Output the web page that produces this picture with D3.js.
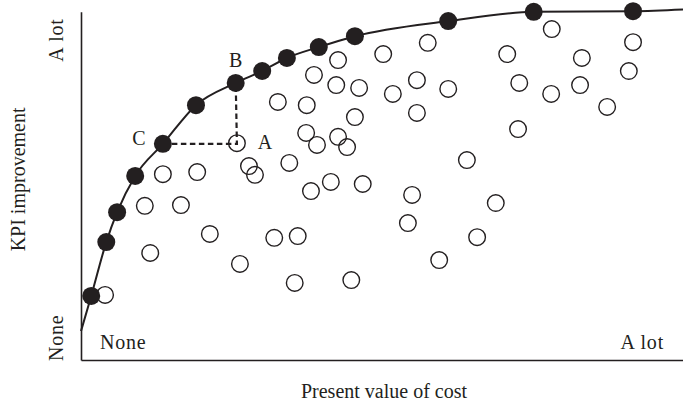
<!DOCTYPE html>
<html>
<head>
<meta charset="utf-8">
<script src="https://cdn.jsdelivr.net/npm/d3@7"></script>
<style>
html,body{margin:0;padding:0;background:#fff;}
svg{display:block;}
text{font-family:"Liberation Serif","Times New Roman",serif;fill:#231f20;}
</style>
</head>
<body>
<svg id="chart" width="683" height="405"></svg>
<script>
// Frontier (filled) points: x = present value of cost, y = KPI improvement (0-100 scale)
const frontierX = [1.7, 4.2, 6.0, 9.0, 13.6, 19.1, 25.7, 30.1, 34.2, 39.5, 45.5, 61.0, 75.2, 91.7];
const frontierY = [18.2, 33.5, 42.0, 52.3, 61.4, 72.4, 78.7, 82.1, 85.8, 88.9, 92.0, 96.3, 98.9, 99.1];
// Curve end points (origin side and far right)
const curveStart = [0, 8.2];
const curveEnd = [100, 99.6];
// Inefficient (open) points
const openX = [4.0, 11.5, 10.6, 16.6, 13.6, 19.3, 21.4, 25.9, 27.9, 28.9, 26.4, 32.1, 36.0, 35.5, 34.6, 32.7, 37.5, 37.4, 39.2, 42.7, 44.2, 38.2, 41.5, 46.8, 44.9, 38.7, 42.7, 42.4, 46.2, 45.5, 50.2, 51.8, 55.8, 55.8, 57.6, 61.0, 55.0, 54.3, 59.5, 64.1, 65.8, 68.9, 70.8, 72.8, 72.6, 78.2, 78.1, 83.2, 82.9, 87.4, 91.7, 91.0];
const openY = [18.5, 30.4, 43.8, 44.0, 52.8, 53.4, 35.8, 61.6, 55.1, 52.6, 27.3, 34.7, 35.2, 21.9, 56.0, 73.3, 72.4, 64.5, 61.1, 63.4, 60.5, 48.0, 50.6, 50.0, 22.7, 81.0, 85.2, 78.1, 77.3, 69.0, 86.9, 75.6, 79.5, 70.2, 90.1, 77.0, 46.9, 38.9, 28.4, 56.8, 34.9, 44.6, 86.9, 78.7, 65.6, 94.0, 75.6, 85.8, 78.1, 71.9, 90.3, 82.1];
// Annotated points: A (open), B and C (frontier)
const pointA = [25.9, 61.6];
const pointB = [25.7, 78.7];
const pointC = [13.6, 61.4];
const annotLabels = ["A", "B", "C"];
// Axis labels
const xTickLabels = ["None", "A lot"];
const yTickLabels = ["None", "A lot"];
const xTitle = "Present value of cost";
const yTitle = "KPI improvement";
const yAxisMax = 98.9;

const ink = "#231f20";
const svg = d3.select("#chart");
const x = d3.scaleLinear().domain([0, 100]).range([81, 683]);
const y = d3.scaleLinear().domain([0, 100]).range([360, 8]);

// Axes (no ticks)
svg.append("g").attr("transform", `translate(0,${y(0)})`)
  .call(d3.axisBottom(x).tickValues([]).tickSizeOuter(0))
  .call(g => g.select(".domain").attr("stroke", ink).attr("stroke-width", 1.6));
const yAxisScale = y.copy().domain([0, yAxisMax]).range([y(0), y(yAxisMax)]);
svg.append("g").attr("transform", `translate(${x(0)},0)`)
  .call(d3.axisLeft(yAxisScale).tickValues([]).tickSizeOuter(0))
  .call(g => g.select(".domain").attr("stroke", ink).attr("stroke-width", 1.6));

// Open circles
const openData = openX.map((v, i) => [v, openY[i]]);
svg.append("g").selectAll("circle").data(openData).join("circle")
  .attr("cx", d => x(d[0])).attr("cy", d => y(d[1])).attr("r", 8.3)
  .attr("fill", "none").attr("stroke", ink).attr("stroke-width", 1.4);

// Frontier curve
const frontierData = frontierX.map((v, i) => [v, frontierY[i]]);
const curveData = [curveStart, ...frontierData, curveEnd];
svg.append("path").datum(curveData)
  .attr("d", d3.line().x(d => x(d[0])).y(d => y(d[1])).curve(d3.curveMonotoneX))
  .attr("fill", "none").attr("stroke", ink).attr("stroke-width", 2);

// Dashed guides C -> A -> B
svg.append("path").datum([pointC, [pointA[0], pointC[1]], pointB])
  .attr("d", d3.line().x(d => x(d[0])).y(d => y(d[1])))
  .attr("fill", "none").attr("stroke", ink).attr("stroke-width", 2.2)
  .attr("stroke-dasharray", "5.5,3.5");

// Filled circles
svg.append("g").selectAll("circle").data(frontierData).join("circle")
  .attr("cx", d => x(d[0])).attr("cy", d => y(d[1])).attr("r", 9)
  .attr("fill", ink);

// Point labels
const fs = 20;
svg.append("text").attr("x", x(pointA[0]) + 28).attr("y", y(pointA[1]) + 1)
  .attr("text-anchor", "middle").attr("dominant-baseline", "middle").attr("font-size", fs).text(annotLabels[0]);
svg.append("text").attr("x", x(pointB[0])).attr("y", y(pointB[1]) - 21)
  .attr("text-anchor", "middle").attr("dominant-baseline", "middle").attr("font-size", fs).text(annotLabels[1]);
svg.append("text").attr("x", x(pointC[0]) - 24).attr("y", y(pointC[1]) - 3)
  .attr("text-anchor", "middle").attr("dominant-baseline", "middle").attr("font-size", fs).text(annotLabels[2]);

// X end labels (inside plot)
svg.append("text").attr("x", x(0) + 19).attr("y", y(0) - 11).attr("font-size", fs).attr("letter-spacing", 0.8).text(xTickLabels[0]);
svg.append("text").attr("x", x(100) - 19).attr("y", y(0) - 11).attr("text-anchor", "end").attr("font-size", fs).attr("letter-spacing", 0.8).text(xTickLabels[1]);

// Y end labels (rotated)
svg.append("text").attr("transform", `translate(63,${y(6.3)}) rotate(-90)`)
  .attr("text-anchor", "middle").attr("font-size", fs).attr("letter-spacing", 0.8).text(yTickLabels[0]);
svg.append("text").attr("transform", `translate(63,${y(90.9)}) rotate(-90)`)
  .attr("text-anchor", "middle").attr("font-size", fs).attr("letter-spacing", 0.8).text(yTickLabels[1]);

// Titles
svg.append("text").attr("x", 384).attr("y", 398).attr("text-anchor", "middle").attr("font-size", fs).text(xTitle);
svg.append("text").attr("transform", `translate(25,${y(51.3)}) rotate(-90)`)
  .attr("text-anchor", "middle").attr("font-size", fs).text(yTitle);
</script>
</body>
</html>
